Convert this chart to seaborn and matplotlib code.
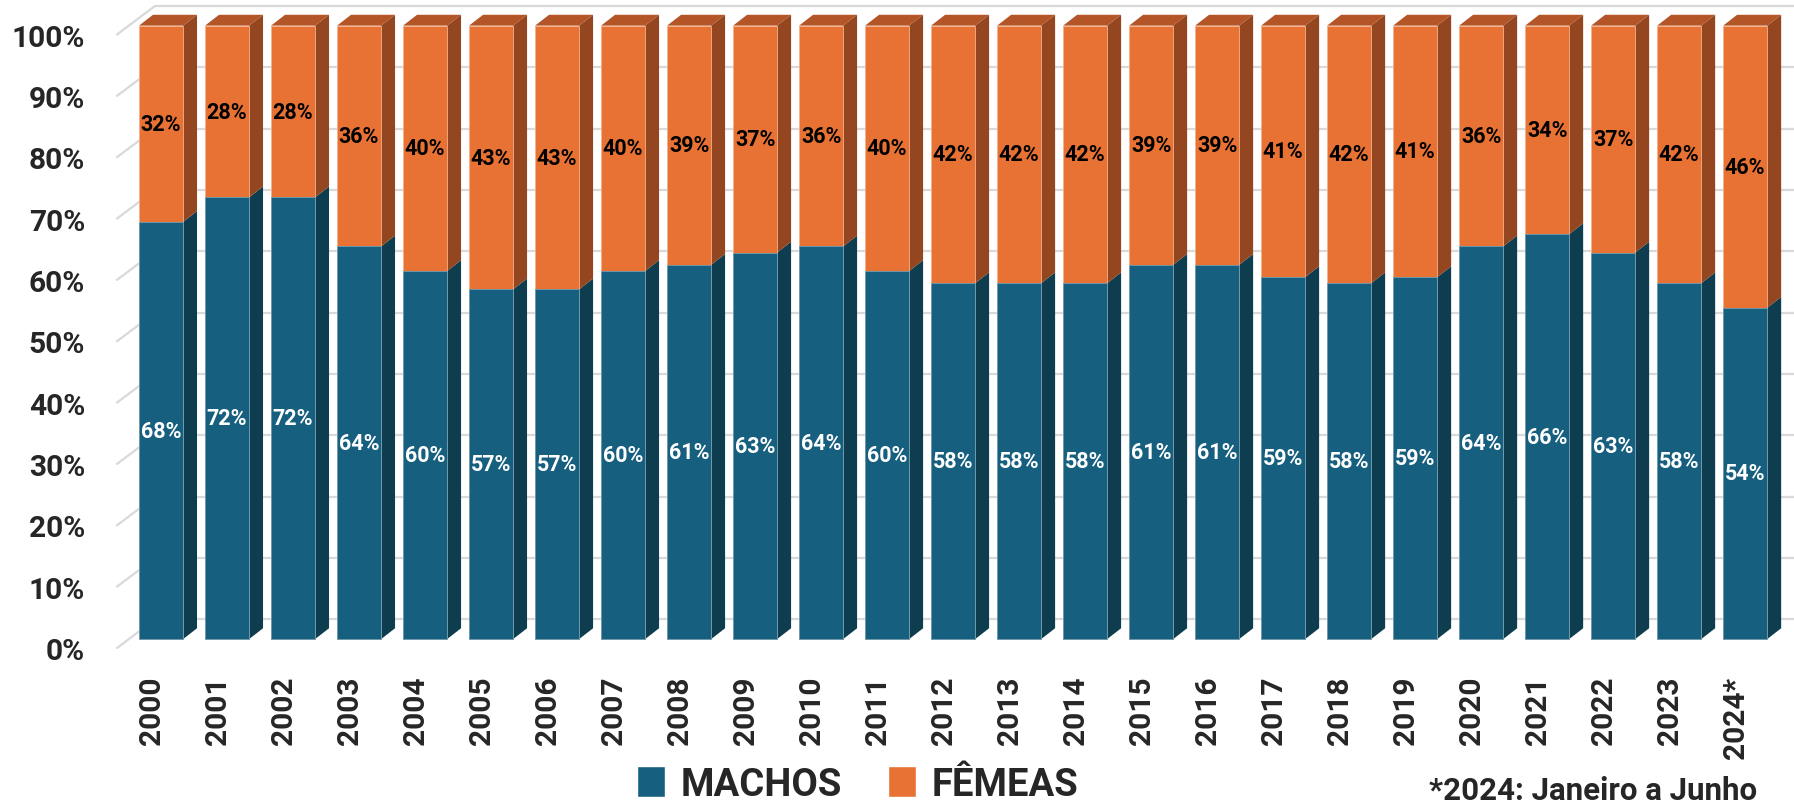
import numpy as np
import pandas as pd
import matplotlib
matplotlib.use("Agg")
import matplotlib.pyplot as plt
from matplotlib.patches import Polygon, Patch
import seaborn as sns

# DADOS
anos = ["2000", "2001", "2002", "2003", "2004", "2005", "2006", "2007", "2008",
        "2009", "2010", "2011", "2012", "2013", "2014", "2015", "2016", "2017",
        "2018", "2019", "2020", "2021", "2022", "2023", "2024*"]
machos = [68, 72, 72, 64, 60, 57, 57, 60, 61, 63, 64, 60, 58, 58, 58, 61, 61,
          59, 58, 59, 64, 66, 63, 58, 54]
femeas = [32, 28, 28, 36, 40, 43, 43, 40, 39, 37, 36, 40, 42, 42, 42, 39, 39,
          41, 42, 41, 36, 34, 37, 42, 46]
y_ticks = [0, 10, 20, 30, 40, 50, 60, 70, 80, 90, 100]

# CORES
BLUE = "#175F7F"
BLUE_SIDE = "#0D3D4F"
ORANGE = "#E87234"
ORANGE_SIDE = "#93461F"
ORANGE_TOP = "#B35527"
GRID = "#D9D9D9"

# "3D" geometria (em unidades de dados)
PX_X = 1 / 66.0        # 1 pixel em x
PX_Y = 100 / 622.0     # 1 pixel em y
BAR_W = 44 * PX_X
DEPTH_DX = 14 * PX_X
DEPTH_DY = 11 * PX_Y
FRONT_DY = 9 * PX_Y    # plano frontal (eixo) abaixo da face da barra
BACK_DY = 20 * PX_Y    # parede do fundo acima da face da barra
FRONT_X = -0.667
GRID_X0 = -0.09
X_MAX = 24.74

df = pd.DataFrame({"ano": anos, "machos": machos, "femeas": femeas})
df["total"] = df["machos"] + df["femeas"]

sns.set_theme(style="white")
plt.rcParams["font.family"] = ["Roboto", "DejaVu Sans"]

fig = plt.figure(figsize=(17.94, 8.03), dpi=100)
ax = fig.add_axes([117 / 1794, 154 / 803, 1677 / 1794, 649 / 803])

# linhas de grade (parede do fundo + diagonais)
for v in y_ticks:
    ax.plot([GRID_X0, X_MAX], [v + BACK_DY, v + BACK_DY], color=GRID, lw=1.6,
            zorder=0, clip_on=False, solid_capstyle="butt")
    ax.plot([FRONT_X, GRID_X0], [v - FRONT_DY, v + BACK_DY], color=GRID, lw=1.6,
            zorder=0, clip_on=False)

# faces frontais
sns.barplot(data=df, x="ano", y="total", color=ORANGE, saturation=1, width=BAR_W,
            edgecolor="#F4B08A", linewidth=0.6, ax=ax, zorder=3)
sns.barplot(data=df, x="ano", y="machos", color=BLUE, saturation=1, width=BAR_W,
            edgecolor="#6F9DB3", linewidth=0.6, ax=ax, zorder=3)

# faces laterais e topo
for i, (m, t) in enumerate(zip(df["machos"], df["total"])):
    x0 = i - BAR_W / 2
    x1 = i + BAR_W / 2
    for b, top, c in [(0, m, BLUE_SIDE), (m, t, ORANGE_SIDE)]:
        ax.add_patch(Polygon([(x1, b), (x1 + DEPTH_DX, b + DEPTH_DY),
                              (x1 + DEPTH_DX, top + DEPTH_DY), (x1, top)],
                             closed=True, facecolor=c, edgecolor="none",
                             zorder=2, clip_on=False))
    ax.add_patch(Polygon([(x0, t), (x1, t), (x1 + DEPTH_DX, t + DEPTH_DY),
                          (x0 + DEPTH_DX, t + DEPTH_DY)],
                         closed=True, facecolor=ORANGE_TOP, edgecolor="none",
                         zorder=2, clip_on=False))

# rótulos das barras
for i, (m, f) in enumerate(zip(machos, femeas)):
    ax.text(i, m / 2, f"{m}%", ha="center", va="center", color="white",
            fontsize=15.5, fontweight="bold", zorder=5)
    ax.text(i, m + f / 2, f"{f}%", ha="center", va="center", color="black",
            fontsize=15.5, fontweight="bold", zorder=5)

ax.set_xlim(FRONT_X, X_MAX)
ax.set_ylim(0, 649 * PX_Y)

ax.set_yticks(np.array(y_ticks) - FRONT_DY)
ax.set_yticklabels([f"{v}%" for v in y_ticks], fontsize=21.5, fontweight="bold")
ax.set_xticks(np.arange(len(anos)) - 9 * PX_X)
ax.set_xticklabels(anos, rotation=90, fontsize=21.5, fontweight="bold")
ax.tick_params(axis="y", length=0, pad=23)
ax.tick_params(axis="x", length=0, pad=20)
ax.set_xlabel("")
ax.set_ylabel("")
for s in ax.spines.values():
    s.set_visible(False)
ax.set_facecolor("none")

handles = [Patch(facecolor=BLUE, label="MACHOS"),
           Patch(facecolor=ORANGE, label="FÊMEAS")]
fig.legend(handles=handles, loc="center", bbox_to_anchor=(0.478, 0.022),
           ncol=2, frameon=False, handlelength=0.75, handleheight=0.85,
           handletextpad=0.4, columnspacing=1.2,
           prop={"size": 27.5, "weight": "bold"})

fig.text(1757 / 1794, 3 / 803, "*2024: Janeiro a Junho", ha="right",
         va="baseline", fontsize=22.5, fontweight="bold")

fig.savefig("out.png", dpi=100)
